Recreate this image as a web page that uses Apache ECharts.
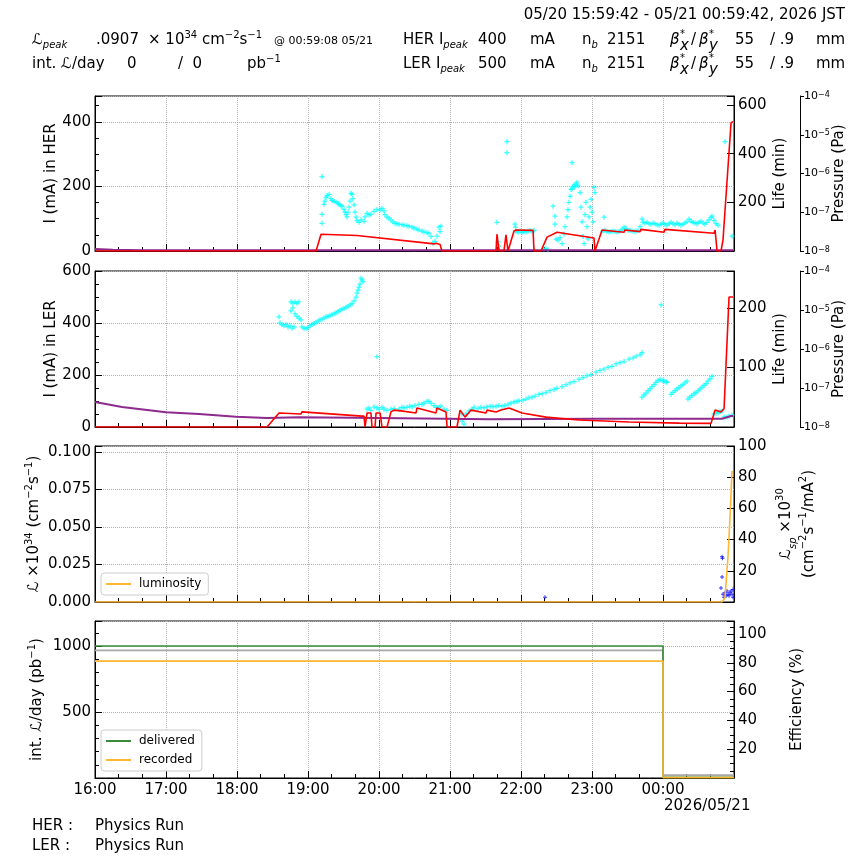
<!DOCTYPE html>
<html>
<head>
<meta charset="utf-8">
<title>HER / LER status</title>
<script src="https://cdn.jsdelivr.net/npm/echarts@6/dist/echarts.min.js"></script>
<style>
    html, body { margin: 0; padding: 0; background: #fff; }
    #chart_container { width: 864px; height: 864px; }
</style>
</head>
<body>
<div id="chart_container"></div>
<script>
"use strict";

// x values are minutes after 05/20 16:00 (window 15:59:42 - 00:59:42)
var hourLabels = ['16:00', '17:00', '18:00', '19:00', '20:00', '21:00', '22:00', '23:00', '00:00'];

// HER current (mA)
var herCurrent = [[0, 0], [186.8, 0], [191.0, 52], [221.4, 48], [222.3, 50], [286.5, 22], [288.2, 24], [291.6, 20], [293.2, 0],
    [338.9, 0], [339.7, 52], [341.4, 0], [345.6, 0], [347.3, 50], [349.0, 0], [349.9, 0], [354.1, 62], [355.8, 65], [370.2, 64],
    [371.0, 0], [376.9, 0], [382.0, 43], [390.4, 58], [421.7, 40], [422.5, 0], [423.4, 0], [428.5, 65], [447.1, 58], [447.9, 65],
    [460.6, 60], [461.4, 67], [480.9, 58], [481.7, 67], [523.1, 55], [524.0, 65], [524.8, 65], [525.7, 0], [529.0, 0],
    [530.7, 34], [537.5, 397], [539.2, 400]];

// HER lifetime (min)
var herLife = [[191.8, 306], [191.8, 151], [191.8, 114], [193.5, 192], [194.3, 205], [195.2, 220], [196.1, 228], [197.8, 233],
    [199.4, 215], [200.3, 208], [202.0, 204], [203.7, 200], [205.4, 196], [206.2, 192], [207.9, 186], [208.7, 184], [210.4, 171],
    [211.3, 160], [212.1, 150], [213.0, 140], [213.8, 159], [214.7, 180], [215.5, 205], [216.3, 237], [217.2, 233], [218.0, 215],
    [218.9, 190], [219.7, 160], [220.6, 139], [221.4, 125], [223.1, 118], [224.8, 128], [227.3, 122], [228.2, 140], [229.9, 155],
    [231.6, 148], [233.2, 151], [235.8, 163], [238.3, 171], [240.9, 168], [242.5, 175], [244.2, 165], [245.0, 150], [246.8, 139],
    [248.5, 135], [250.1, 127], [251.8, 120], [253.5, 114], [255.2, 112], [256.9, 110], [259.4, 108], [261.1, 106], [263.7, 104],
    [265.4, 102], [267.9, 98], [269.6, 94], [272.1, 90], [273.8, 86], [276.3, 82], [278.0, 78], [280.6, 76], [282.3, 73],
    [284.0, 60], [285.6, 33], [287.3, 40], [289.0, 61], [290.7, 98], [291.6, 80], [292.4, 102],
    [339.7, 118], [340.6, 37], [341.4, 20], [348.1, 449], [348.1, 404], [354.9, 110], [355.4, 98], [355.8, 80], [357.5, 78],
    [359.1, 82], [360.9, 76], [362.5, 80], [364.2, 78], [365.9, 82], [367.6, 84], [369.3, 80], [371.0, 85],
    [379.4, 8], [381.1, 10], [382.8, 5], [387.1, 184], [388.7, 143], [388.7, 110], [389.6, 49], [391.3, 45], [393.0, 55],
    [394.7, 30], [396.3, 70], [397.2, 100], [398.9, 140], [399.7, 170], [400.6, 200], [401.4, 225], [402.3, 253], [403.1, 363],
    [403.1, 255], [404.0, 265], [404.8, 270], [405.6, 262], [406.5, 275], [407.3, 282], [408.2, 268], [409.9, 240], [410.7, 180],
    [411.6, 120], [412.4, 60], [413.3, 30], [414.1, 150], [414.9, 200], [415.8, 100], [416.6, 50], [417.5, 140], [418.3, 180],
    [419.2, 212], [420.0, 160], [420.9, 120], [421.7, 261], [422.5, 240], [430.1, 139],
    [429.3, 82], [431.0, 84], [432.7, 80], [434.4, 78], [436.1, 80], [437.8, 82], [439.5, 80], [441.1, 78], [442.8, 80],
    [444.5, 85], [446.2, 90], [447.1, 98], [448.8, 92], [450.4, 85], [452.1, 84], [453.8, 82], [455.5, 80], [457.2, 82],
    [458.9, 84], [460.6, 100], [462.3, 131], [463.1, 118], [464.8, 115], [466.5, 118], [468.2, 112], [469.9, 110], [471.6, 115],
    [473.3, 112], [475.0, 108], [476.7, 106], [478.4, 110], [480.0, 115], [481.7, 110], [483.4, 106], [485.1, 112], [486.8, 118],
    [488.5, 112], [490.2, 108], [491.9, 115], [493.5, 110], [495.2, 106], [496.9, 110], [498.6, 115], [500.3, 120], [502.0, 131],
    [503.7, 122], [505.4, 118], [507.1, 115], [508.7, 112], [510.4, 118], [512.1, 122], [513.8, 115], [515.5, 110], [517.2, 118],
    [518.9, 128], [520.6, 138], [521.4, 143], [523.1, 125], [524.8, 112], [526.5, 106], [532.4, 449], [538.3, 61]];

// HER pressure (Pa)
var herPressure = [[0, 1.13e-8], [15, 1.08e-8], [40, 1.05e-8], [300, 1.05e-8], [539.2, 1.04e-8]];

// LER current (mA)
var lerCurrent = [[0, 0], [145.4, 0], [155.5, 54], [174.1, 50], [174.9, 58], [225.6, 42], [227.3, 42], [228.2, 0], [229.9, 54],
    [233.2, 54], [234.1, 0], [236.6, 0], [237.5, 54], [240.9, 54], [242.5, 0], [246.8, 0], [250.1, 58], [252.7, 65], [258.6, 62],
    [259.4, 69], [271.3, 54], [272.1, 73], [288.2, 54], [289.0, 73], [296.6, 58], [297.5, 0], [305.9, 0], [308.5, 65],
    [310.1, 65], [312.7, 38], [317.8, 65], [330.4, 54], [331.3, 65], [338.9, 58], [343.1, 65], [349.9, 73], [360.9, 54],
    [381.1, 38], [409.0, 27], [451.3, 19], [493.5, 15], [520.6, 14], [521.4, 14], [524.0, 65], [529.0, 58], [531.6, 70],
    [535.8, 500], [539.2, 500]];

// LER lifetime (min)
var lerLife = [[155.5, 185], [156.3, 175], [158.0, 172], [159.7, 170], [161.4, 172], [163.1, 168], [164.8, 170], [166.5, 166],
    [168.2, 168], [165.6, 210], [167.3, 208], [169.0, 210], [170.7, 208], [172.4, 210], [165.6, 195], [167.3, 200], [169.0, 190],
    [170.7, 186], [172.4, 183], [174.1, 180], [174.9, 168], [176.6, 166], [178.3, 165], [180.0, 167], [181.7, 170], [183.4, 172],
    [185.1, 174], [186.8, 176], [188.5, 178], [190.1, 180], [191.8, 181], [193.5, 183], [195.2, 185], [196.9, 186], [198.6, 187],
    [200.3, 189], [202.0, 190], [203.7, 192], [205.4, 194], [207.1, 196], [208.7, 198], [210.4, 199], [212.1, 201], [213.8, 203],
    [215.5, 205], [217.2, 207], [218.9, 212], [220.6, 218], [221.4, 225], [222.3, 230], [223.1, 235], [223.9, 240], [224.8, 250],
    [225.6, 247], [226.5, 244], [238.3, 118],
    [229.9, 30], [231.6, 32], [233.2, 28], [235.8, 34], [238.3, 32], [240.0, 30], [242.5, 33], [244.2, 30], [246.8, 28],
    [250.1, 30], [252.7, 31], [256.9, 30], [259.4, 33], [261.1, 32], [263.7, 33], [266.0, 35], [267.9, 34], [270.4, 36],
    [273.8, 38], [276.3, 38], [278.0, 40], [280.6, 43], [282.3, 43], [284.0, 40], [286.5, 36], [288.2, 33], [290.7, 33],
    [292.4, 35], [294.9, 30], [297.5, 28], [310.1, 22], [310.1, 10], [311.8, 5], [313.5, 22], [316.1, 27], [318.6, 30],
    [320.3, 33], [323.7, 31], [326.2, 33], [328.7, 32], [331.3, 34], [333.9, 35], [336.4, 34], [338.9, 35], [341.4, 36],
    [343.9, 35], [346.5, 36], [349.0, 38], [351.5, 40], [354.1, 42], [356.6, 43],
    [358.3, 44], [361.7, 45], [364.2, 47], [366.8, 49], [369.3, 50], [371.9, 52], [375.2, 55], [377.8, 56], [381.1, 58],
    [384.5, 61], [387.9, 63], [390.4, 65], [394.7, 68], [398.0, 71], [401.4, 74], [404.8, 76], [409.0, 80], [412.4, 83],
    [415.8, 86], [419.2, 88], [423.4, 92], [426.7, 95], [430.1, 97], [433.5, 100], [436.9, 102], [440.3, 106], [443.7, 108],
    [447.1, 110], [451.3, 114], [454.7, 116], [457.2, 119], [460.6, 121], [462.3, 125], [478.4, 205],
    [462.3, 50], [464.0, 54], [465.6, 57], [467.4, 61], [469.0, 64], [470.7, 68], [472.4, 71], [474.1, 75], [475.8, 78],
    [477.5, 80], [479.2, 78], [480.9, 77], [482.6, 76], [483.4, 75],
    [486.8, 55], [488.5, 58], [490.2, 61], [491.9, 64], [493.5, 66], [495.2, 69], [496.9, 71], [498.6, 74], [500.3, 77],
    [501.1, 47], [502.8, 50], [504.5, 53], [506.2, 56], [507.9, 58], [509.6, 61], [511.3, 64], [513.0, 67], [514.7, 70],
    [516.4, 73], [518.0, 77], [519.7, 81], [521.4, 85],
    [523.1, 22], [524.8, 23], [526.5, 24], [528.2, 26], [529.9, 27], [531.6, 17], [534.1, 17], [535.8, 18], [538.3, 20]];

// LER pressure (Pa)
var lerPressure = [[0, 4.4e-8], [22.8, 3.24e-8], [60, 2.4e-8], [87.9, 2.14e-8], [119.2, 1.82e-8], [145.4, 1.7e-8],
    [147, 1.82e-8], [172.4, 1.78e-8], [240, 1.7e-8], [333, 1.58e-8], [423, 1.62e-8], [529.9, 1.62e-8], [537.5, 1.91e-8],
    [539.2, 1.91e-8]];

// luminosity (x10^34) and specific luminosity (x10^30)
var luminosity = [[0, 0], [529.9, 0], [532.4, 0.003], [534.9, 0.030], [535.8, 0.031], [536.6, 0.056], [538.3, 0.087], [539.2, 0.087]];
var specLumi = [[380.3, 3], [529.0, 9], [529.9, 29], [530.3, 28], [529.9, 16], [530.7, 5], [531.6, 3], [532.4, 6], [533.3, 4],
    [534.1, 7], [534.9, 5], [535.8, 4], [536.6, 6], [537.5, 7], [538.3, 5], [539.2, 8], [539.2, 3]];

// integrated luminosity per day (pb^-1) and efficiency (%)
var delivered = [[0, 1000], [480, 1000], [480, 5], [540, 5]];
var recorded = [[0, 886], [480, 886], [480, 3], [540, 3]];
var efficiency = [[0, 88.6], [480, 88.6], [480, 2], [540, 2]];

var FONT = 'DejaVu Sans';
var PLUS = 'path://M3,0h2v3h3v2h-3v3h-2v-3h-3v-2h3z';
var RICH = {
    sup: {fontSize: 10, lineHeight: 10, verticalAlign: 'top', fontFamily: FONT, color: '#000', fill: '#000'},
    sub: {fontSize: 10, lineHeight: 10, verticalAlign: 'bottom', fontStyle: 'italic', fontFamily: FONT, color: '#000', fill: '#000'},
    L: {fontSize: 15, fontStyle: 'italic', fontFamily: FONT, color: '#000', fill: '#000'}
};

var gridTops = [96, 271, 446, 621];
var gridHeights = [155, 156, 156, 157];

function timeAxis(gridIndex) {
    return {
        type: 'value', gridIndex: gridIndex, min: 0, max: 540, interval: 60,
        axisLine: {show: true, onZero: false, lineStyle: {color: '#000', width: 1}},
        axisTick: {show: true, inside: true, length: 7, lineStyle: {color: '#000'}},
        minorTick: {show: true, splitNumber: 3, length: 4, lineStyle: {color: '#000'}},
        splitLine: {show: true, lineStyle: {color: '#b0b0b0', type: 'dotted', width: 1}},
        axisLabel: {
            show: gridIndex === 3, color: '#000', fontFamily: FONT, fontSize: 15, margin: 5,
            formatter: function (v) {
                return hourLabels[Math.round(v / 60)] || '';
            }
        }
    };
}

function valueAxis(o) {
    var isLeft = o.position === 'left';
    return {
        type: 'value', gridIndex: o.grid, position: o.position, min: o.min, max: o.max, interval: o.interval,
        name: o.name, nameLocation: 'middle', nameRotate: 90, nameGap: o.nameGap, nameMoveOverlap: false,
        nameTextStyle: {color: '#000', fontFamily: FONT, fontSize: o.nameSize || 15, lineHeight: o.nameLine || 20, rich: RICH},
        axisLine: {show: true, onZero: false, lineStyle: {color: '#000', width: 1}},
        axisTick: {show: true, inside: true, length: 7, lineStyle: {color: '#000'}},
        minorTick: {show: !!o.minor, splitNumber: o.minor || 1, length: 4, lineStyle: {color: '#000'}},
        splitLine: {show: isLeft, lineStyle: {color: '#b0b0b0', type: 'dotted', width: 1}},
        axisLabel: {color: '#000', fontFamily: FONT, fontSize: 15, margin: 4, formatter: o.fmt}
    };
}

function pressureAxis(gridIndex) {
    return {
        type: 'log', logBase: 10, gridIndex: gridIndex, position: 'right', offset: 66, min: 1e-8, max: 1e-4,
        name: 'Pressure (Pa)', nameLocation: 'middle', nameRotate: 90, nameGap: 32, nameMoveOverlap: false,
        nameTextStyle: {color: '#000', fontFamily: FONT, fontSize: 15},
        axisLine: {show: true, onZero: false, lineStyle: {color: '#000', width: 1}},
        axisTick: {show: true, length: 4, lineStyle: {color: '#000'}},
        splitLine: {show: false},
        axisLabel: {
            color: '#000', fontFamily: FONT, fontSize: 11, margin: 4,
            rich: {sup: {fontSize: 8, lineHeight: 8, verticalAlign: 'top', fontFamily: FONT, color: '#000'}},
            formatter: function (v) {
                var e = Math.round(Math.log(v) / Math.LN10);
                return '10{sup|\u2212' + (-e) + '}';
            }
        }
    };
}

function between(lo, hi, digits) {
    return function (v) {
        if (v < lo - 1e-9 || v > hi + 1e-9) {
            return '';
        }
        return digits ? v.toFixed(digits) : String(Math.round(v));
    };
}

function text(x, y, str, size, align) {
    return {
        type: 'text', x: x, y: y, silent: true,
        style: {
            text: str, fontSize: size || 15, fontFamily: FONT, fill: '#000',
            align: align || 'left', verticalAlign: 'middle', lineHeight: 20, rich: RICH
        }
    };
}

function betaBlock(y) {
    return [
        text(670, y, '{L|\u03b2}'),
        text(680, y - 6, '*', 10),
        text(680, y + 6, '{L|x}', 9),
        text(691, y, '/'),
        text(699, y, '{L|\u03b2}'),
        text(709, y - 6, '*', 10),
        text(709, y + 6, '{L|y}', 9)
    ];
}

var graphics = [
    text(845, 15, '05/20 15:59:42 - 05/21 00:59:42, 2026 JST', 15, 'right'),
    text(32, 40, '{L|\u2112}{sub|peak}'),
    text(96, 40, '.0907'),
    text(148, 40, '\u00d7 10{sup|34} cm{sup|\u22122}s{sup|\u22121}'),
    text(274, 41, '@ 00:59:08 05/21', 11),
    text(403, 40, 'HER I{sub|peak}'),
    text(478, 40, '400'),
    text(530, 40, 'mA'),
    text(582, 40, 'n{sub|b}'),
    text(607, 40, '2151'),
    text(735, 40, '55'),
    text(770, 40, '/ .9'),
    text(816, 40, 'mm'),
    text(32, 64, 'int. {L|\u2112}/day'),
    text(127, 64, '0'),
    text(178, 64, '/  0'),
    text(247, 64, 'pb{sup|\u22121}'),
    text(403, 64, 'LER I{sub|peak}'),
    text(478, 64, '500'),
    text(530, 64, 'mA'),
    text(582, 64, 'n{sub|b}'),
    text(607, 64, '2151'),
    text(735, 64, '55'),
    text(770, 64, '/ .9'),
    text(816, 64, 'mm'),
    text(664, 806, '2026/05/21'),
    text(32, 826, 'HER :'),
    text(95, 826, 'Physics Run'),
    text(32, 846, 'LER :'),
    text(95, 846, 'Physics Run')
].concat(betaBlock(40), betaBlock(64));

var grids = [];
for (var g = 0; g < 4; g++) {
    grids.push({
        left: 95, top: gridTops[g], width: 639, height: gridHeights[g],
        show: true, borderColor: '#000', borderWidth: 1, backgroundColor: 'rgba(0,0,0,0)',
        outerBoundsMode: 'none', containLabel: false
    });
}

var yAxes = [
    valueAxis({grid: 0, position: 'left', min: 0, max: 480, interval: 200, minor: 4, name: 'I (mA) in HER', nameGap: 34, fmt: between(0, 400)}),
    valueAxis({grid: 0, position: 'right', min: 0, max: 637, interval: 200, name: 'Life (min)', nameGap: 36, fmt: between(1, 600)}),
    pressureAxis(0),
    valueAxis({grid: 1, position: 'left', min: 0, max: 600, interval: 200, minor: 4, name: 'I (mA) in LER', nameGap: 34, fmt: between(0, 600)}),
    valueAxis({grid: 1, position: 'right', min: 0, max: 262, interval: 100, name: 'Life (min)', nameGap: 36, fmt: between(1, 200)}),
    pressureAxis(1),
    valueAxis({grid: 2, position: 'left', min: 0, max: 0.104, interval: 0.025, nameGap: 51,
        name: '{L|\u2112} \u00d710{sup|34} (cm{sup|\u22122}s{sup|\u22121})', fmt: between(0, 0.1, 3)}),
    valueAxis({grid: 2, position: 'right', min: 0, max: 100, interval: 20, nameGap: 41, nameLine: 23,
        name: '{L|\u2112}{sub|sp} \u00d710{sup|30}\n(cm{sup|\u22122}s{sup|\u22121}/mA{sup|2})', fmt: between(1, 100)}),
    valueAxis({grid: 3, position: 'left', min: 0, max: 1190, interval: 500, minor: 5, nameGap: 48,
        name: 'int. {L|\u2112}/day (pb{sup|\u22121})', fmt: between(1, 1000)}),
    valueAxis({grid: 3, position: 'right', min: 0, max: 109, interval: 20, minor: 4, name: 'Efficiency (%)', nameGap: 53, fmt: between(1, 100)})
];

function lineSeries(name, xi, yi, data, color, width) {
    return {
        name: name, type: 'line', xAxisIndex: xi, yAxisIndex: yi, data: data,
        symbol: 'none', showSymbol: false, color: color,
        lineStyle: {color: color, width: width}, emphasis: {disabled: true}
    };
}

function dotSeries(name, xi, yi, data, color, size) {
    return {
        name: name, type: 'scatter', xAxisIndex: xi, yAxisIndex: yi, data: data,
        symbol: PLUS, symbolSize: size, itemStyle: {color: color}, emphasis: {disabled: true}
    };
}

var legendBase = {
    orient: 'vertical', left: 101, icon: 'rect', itemWidth: 25, itemHeight: 2, itemGap: 7,
    padding: [5, 7, 5, 5], borderColor: '#cccccc', borderWidth: 1, borderRadius: 3,
    backgroundColor: '#fff', selectedMode: false,
    textStyle: {color: '#000', fontFamily: FONT, fontSize: 12, padding: [0, 0, 0, 3]}
};

var myChart = echarts.init(document.getElementById('chart_container'), null, {renderer: 'canvas'});

var option = {
    animation: false,
    backgroundColor: '#fff',
    textStyle: {fontFamily: FONT},
    grid: grids,
    xAxis: [timeAxis(0), timeAxis(1), timeAxis(2), timeAxis(3)],
    yAxis: yAxes,
    legend: [
        echarts.util.merge({top: 573, data: ['luminosity']}, legendBase, false),
        echarts.util.merge({top: 730, data: ['delivered', 'recorded']}, legendBase, false)
    ],
    graphic: graphics,
    series: [
        lineSeries('HER pressure', 0, 2, herPressure, '#8e2a8e', 2),
        lineSeries('HER current', 0, 0, herCurrent, '#ff0000', 1.6),
        dotSeries('HER life', 0, 1, herLife, '#00ffff', 5),
        lineSeries('LER pressure', 1, 5, lerPressure, '#8e2a8e', 2),
        lineSeries('LER current', 1, 3, lerCurrent, '#ff0000', 1.6),
        dotSeries('LER life', 1, 4, lerLife, '#00ffff', 5),
        lineSeries('luminosity', 2, 6, luminosity, '#ffb733', 1.6),
        dotSeries('specific luminosity', 2, 7, specLumi, '#0000ff', 4),
        lineSeries('efficiency', 3, 9, efficiency, '#a8a8a8', 1.6),
        lineSeries('delivered', 3, 8, delivered, '#3a8a3a', 1.6),
        lineSeries('recorded', 3, 8, recorded, '#ffb733', 1.6)
    ]
};

myChart.setOption(option);
</script>
</body>
</html>
